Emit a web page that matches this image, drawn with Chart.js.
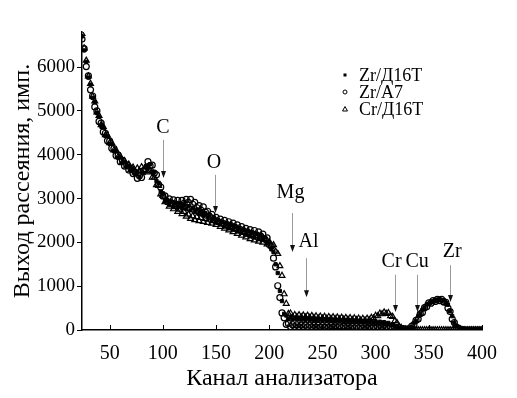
<!DOCTYPE html>
<html><head><meta charset="utf-8">
<script src="https://cdn.jsdelivr.net/npm/chart.js@4"></script>
<style>html,body{margin:0;padding:0;background:#fff}#wrap{width:517px;height:398px}</style>
</head><body><div id="wrap"><canvas id="c" width="517" height="398"></canvas></div>
<script>
// ---- data ----
const channels = [24,26,28,30,32,34,36,38,40,42,44,46,48,50,52,54,56,58,60,62,64,66,68,70,72,74,76,78,80,82,84,86,88,90,92,94,96,98,100,102,104,106,108,110,112,114,116,118,120,122,124,126,128,130,132,134,136,138,140,142,144,146,148,150,152,154,156,158,160,162,164,166,168,170,172,174,176,178,180,182,184,186,188,190,192,194,196,198,200,202,204,206,208,210,212,214,216,218,220,222,224,226,228,230,232,234,236,238,240,242,244,246,248,250,252,254,256,258,260,262,264,266,268,270,272,274,276,278,280,282,284,286,288,290,292,294,296,298,300,302,304,306,308,310,312,314,316,318,320,322,324,326,328,330,332,334,336,338,340,342,344,346,348,350,352,354,356,358,360,362,364,366,368,370,372,374,376,378,380,382,384,386,388,390,392,394,396,398,400];

const zrD16T = [
6700,6380,6120,5760,5600, 5300,5200,4950,4870,4660, 4620,4430,4420,4250,4250, 4080,4080,3930,3940,3810,
3840,3720,3750,3630,3680, 3560,3600,3500,3600,3580, 3740,3720,3780,3620,3600, 3400,3360,3160,3120,2950,
2970,2860,2920,2820,2890, 2800,2870,2780,2850,2760, 2830,2730,2790,2690,2750, 2650,2710,2610,2670,2570,
2630,2520,2570,2460,2510, 2410,2460,2360,2420,2320, 2390,2290,2350,2250,2310, 2220,2280,2180,2250,2150,
2220,2120,2190,2090,2160, 2060,2110,1990,2010,1840, 1780,1500,1300,890,660, 370,330,250,290,240,
280,240,270,234,262, 228,262,222,255,218, 250,214,246,210,242, 206,238,202,234,198,
230,196,226,190,222, 186,218,182,214,178, 210,174,206,170,202, 168,200,164,196,162,
190,158,180,146,162, 120,128,78,76,30, 28,4,12,4,40, 70,165,210,315,370,
465,510,585,600,655, 650,695,680,712,680, 685,620,575,425,315, 165,100,32,20,2,
0,0,0,0,0, 0,0,0,0];

const zrA7 = [
6640,6420,6010,5800,5480, 5340,5090,5000,4760,4720, 4520,4490,4320,4310,4150, 4140,3980,3990,3840,3870,
3740,3770,3650,3690,3570, 3600,3460,3520,3480,3640, 3680,3840,3750,3760,3580, 3540,3320,3260,3060,3060,
2930,2990,2900,2970,2880, 2960,2870,2960,2890,2980, 2910,2980,2870,2910,2790, 2840,2730,2810,2690,2710,
2590,2640,2520,2570,2470, 2530,2440,2500,2410,2470, 2380,2440,2340,2400,2300, 2360,2260,2320,2230,2290,
2200,2270,2170,2240,2140, 2190,2070,2100,1950,1910, 1640,1440,1010,740,390, 280,130,150,80,120,
78,115,73,112,74, 110,72,108,70,106, 67,104,65,102,64, 100,62,98,60,96,
58,93,56,90,54, 88,52,86,50,84, 48,82,46,80,44, 78,42,76,40,74,
40,72,38,70,36, 66,34,60,26,50, 14,34,4,28,22, 90,115,220,250,370,
400,510,530,620,610, 670,650,700,670,700, 640,630,500,420,250, 170,55,45,4,10,
0,0,0,0,0, 0,0,0,0];

const crD16T = [
6760,6430,6150,5790,5620, 5330,5220,4970,4890,4680, 4640,4450,4440,4270,4270, 4100,4100,3950,3960,3830,
3860,3740,3780,3660,3710, 3600,3690,3630,3720,3650, 3720,3600,3630,3480,3480, 3310,3290,3100,3070,2920,
2940,2820,2870,2760,2810, 2700,2750,2650,2700,2590, 2640,2540,2600,2510,2580, 2490,2560,2470,2540,2450,
2520,2430,2490,2400,2460, 2360,2420,2320,2380,2280, 2340,2240,2300,2200,2260, 2160,2220,2120,2180,2080,
2140,2050,2110,2020,2080, 2000,2060,1960,2010,1920, 1940,1790,1740,1460,1240, 820,600,370,380,300,
345,300,342,295,336, 290,330,284,324,278, 316,272,310,267,305, 262,300,258,295,252,
290,248,285,244,280, 240,275,234,270,230, 264,226,260,222,262, 232,282,268,328,318,
378,364,405,372,390, 322,305,205,165,78, 55,12,14,0,6, 0,0,0,0,0,
0,0,0,0,0, 0,0,0,0,0, 0,0,0,0,0, 0,0,0,0,0,
0,0,0,0,0, 0,0,0,0];

const seriesNames = ['Zr/Д16T', 'Zr/А7', 'Cr/Д16T'];
const xTicks = [50,100,150,200,250,300,350,400];
const yTicks = [0,1000,2000,3000,4000,5000,6000];
const xTitle = 'Канал анализатора';
const yTitle = 'Выход рассеяния, имп.';

// element marks: label text, arrow channel, label position, arrow span
const markLabels = ['C','O','Mg','Al','Cr','Cu','Zr'];
const markChannels = [100,149,221,235,318,339,370];
const labelChannels = [100,148,220,237,315,339,372];
const labelValues = [4610,3810,3130,2010,1550,1550,1780];
const arrowTopValues = [4340,3540,2670,1640,1260,1260,1480];
const arrowTipValues = [3470,2670,1780,750,410,410,640];

// ---- chart ----
const FONT = '"Liberation Serif","Times New Roman",serif';
const toPts = arr => channels.map((ch, i) => ({x: ch, y: arr[i]}));

const decor = {
  id: 'decor',
  afterDraw(chart) {
    const {ctx, chartArea, scales: {x, y}} = chart;
    ctx.save();
    // inward x tick marks
    ctx.strokeStyle = '#000'; ctx.lineWidth = 1;
    xTicks.forEach(v => {
      const px = Math.round(x.getPixelForValue(v)) + 0.5;
      ctx.beginPath(); ctx.moveTo(px, chartArea.bottom); ctx.lineTo(px, chartArea.bottom - 5); ctx.stroke();
    });
    // element arrows and labels
    ctx.font = '20px ' + FONT;
    ctx.textAlign = 'center'; ctx.textBaseline = 'middle';
    markLabels.forEach((t, i) => {
      const ax = Math.round(x.getPixelForValue(markChannels[i])) + 0.5;
      const y0 = y.getPixelForValue(arrowTopValues[i]);
      const y1 = y.getPixelForValue(arrowTipValues[i]);
      ctx.strokeStyle = '#9a9a9a'; ctx.lineWidth = 1;
      ctx.beginPath(); ctx.moveTo(ax, y0); ctx.lineTo(ax, y1 - 5); ctx.stroke();
      ctx.fillStyle = '#111';
      ctx.beginPath(); ctx.moveTo(ax - 2.5, y1 - 7); ctx.lineTo(ax + 2.5, y1 - 7); ctx.lineTo(ax, y1); ctx.closePath(); ctx.fill();
      ctx.fillStyle = '#000';
      ctx.fillText(t, x.getPixelForValue(labelChannels[i]), y.getPixelForValue(labelValues[i]));
    });
    // legend
    const lx = 345, tx = 359, rows = [75, 92, 109];
    ctx.font = '18px ' + FONT; ctx.textAlign = 'left'; ctx.textBaseline = 'middle';
    ctx.fillStyle = '#000'; ctx.strokeStyle = '#000'; ctx.lineWidth = 1;
    ctx.fillRect(lx - 1.5, rows[0] - 1.5, 3, 3);
    ctx.beginPath(); ctx.arc(lx, rows[1], 2, 0, Math.PI * 2); ctx.stroke();
    ctx.beginPath(); ctx.moveTo(lx, rows[2] - 2.5); ctx.lineTo(lx + 2.5, rows[2] + 2); ctx.lineTo(lx - 2.5, rows[2] + 2); ctx.closePath(); ctx.stroke();
    seriesNames.forEach((n, i) => ctx.fillText(n, tx, rows[i] + 1));
    ctx.restore();
  }
};

new Chart(document.getElementById('c'), {
  type: 'scatter',
  data: {datasets: [
    {label: seriesNames[0], data: toPts(zrD16T), pointStyle: 'rect', pointRadius: 2.3, backgroundColor: '#000', borderColor: '#000', borderWidth: 1},
    {label: seriesNames[1], data: toPts(zrA7), pointStyle: 'circle', pointRadius: 3, backgroundColor: 'rgba(0,0,0,0)', borderColor: '#000', borderWidth: 1.2},
    {label: seriesNames[2], data: toPts(crD16T), pointStyle: 'triangle', pointRadius: 3.4, backgroundColor: 'rgba(0,0,0,0)', borderColor: '#000', borderWidth: 1.2}
  ]},
  options: {
    responsive: false, animation: false, devicePixelRatio: 1,
    layout: {padding: {top: 32, right: 35, left: 0, bottom: 0}},
    plugins: {legend: {display: false}, tooltip: {enabled: false}},
    scales: {
      x: {
        type: 'linear', min: 24, max: 400,
        afterBuildTicks: s => { s.ticks = xTicks.map(v => ({value: v})); },
        afterFit: s => { s.height = 68; },
        grid: {display: false},
        border: {display: true, color: '#000', width: 1.5},
        ticks: {font: {family: FONT, size: 20}, color: '#000', padding: 4, maxRotation: 0, autoSkip: false, callback: v => String(v)},
        title: {display: true, text: xTitle, font: {family: FONT, size: 24}, color: '#000', padding: {top: 0, bottom: 5}}
      },
      y: {
        type: 'linear', min: 0, max: 6800,
        afterBuildTicks: s => { s.ticks = yTicks.map(v => ({value: v})); },
        afterFit: s => { s.width = 82; },
        grid: {display: true, drawOnChartArea: false, drawTicks: true, tickLength: 5, color: '#000'},
        border: {display: true, color: '#000', width: 1.5},
        ticks: {font: {family: FONT, size: 19}, color: '#000', padding: 2, autoSkip: false, callback: v => String(v)},
        title: {display: true, text: yTitle, font: {family: FONT, size: 24}, color: '#000', padding: {top: 8, bottom: 0}}
      }
    }
  },
  plugins: [decor]
});
</script>
</body></html>
